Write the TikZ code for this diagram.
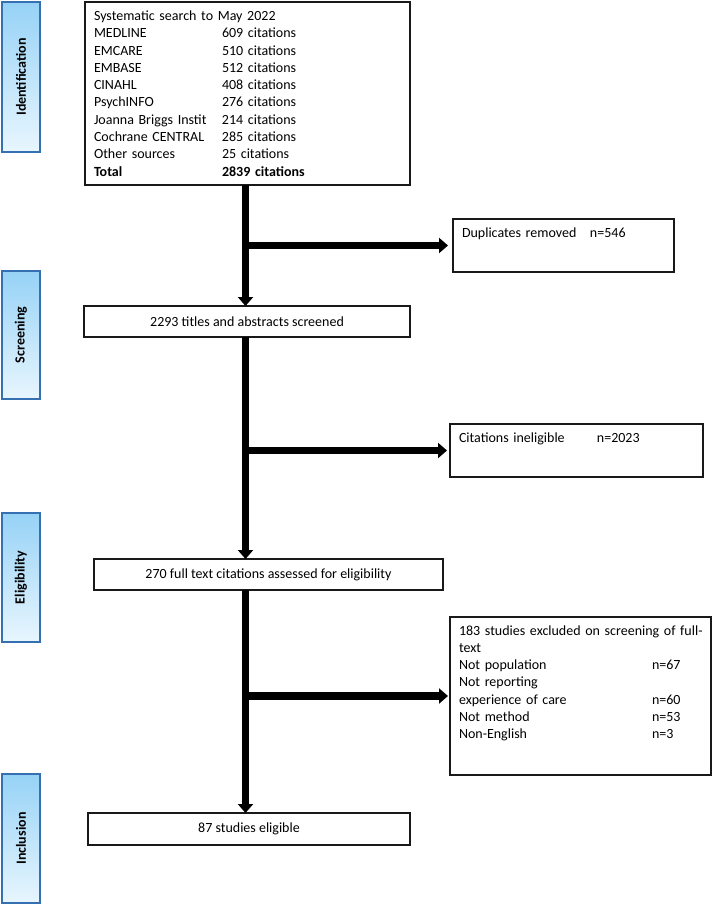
\documentclass[tikz,border=0pt]{standalone}
\usepackage{fontspec}
\setmainfont{Carlito}
\usepackage{tikz}
\usetikzlibrary{arrows.meta}
\definecolor{stageblue}{RGB}{52,112,178}
\definecolor{stagedark}{RGB}{150,210,246}
\definecolor{stagelight}{RGB}{232,246,254}
\definecolor{boxline}{RGB}{25,25,25}
\newcommand{\tabrow}[3]{\makebox[#1][l]{#2}#3}

\begin{document}
\begin{tikzpicture}[x=1pt,y=-1pt,>={Triangle[width=15pt,length=9pt]}]
  \tikzstyle{every node}=[outer sep=0pt,font=\fontsize{14}{17.3}\selectfont]
  \tikzstyle{stage}=[draw=stageblue,line width=1.5pt,top color=stagedark,
                     bottom color=stagelight,rotate=90,minimum height=38pt,
                     inner sep=0pt,font=\fontsize{14}{17}\selectfont\bfseries]
  \tikzstyle{box}=[draw=boxline,line width=1.6pt,anchor=north west,
                   inner xsep=9pt,inner ysep=0pt]
  \tikzstyle{excl}=[box,align=left,inner ysep=5pt,text height=13pt]
  \tikzstyle{flow}=[->,line width=7.5pt,black]

  \useasboundingbox (0,0) rectangle (712,904);

  % stages
  \node[stage,minimum width=150pt] (ident) at (21,77)    {Identification\hspace{21pt}};
  \node[stage,minimum width=128pt] (scr)   at (21,335)   {Screening};
  \node[stage,minimum width=129pt] (elig)  at (21,577.5) {Eligibility};
  \node[stage,minimum width=129pt] (incl)  at (21,838.5) {Inclusion};

  % main column
  \node[box,text width=307pt,minimum height=183pt,align=left] (search) at (85,2)
    {Systematic search to May 2022\\
     \tabrow{128pt}{MEDLINE}{609 citations}\\
     \tabrow{128pt}{EMCARE}{510 citations}\\
     \tabrow{128pt}{EMBASE}{512 citations}\\
     \tabrow{128pt}{CINAHL}{408 citations}\\
     \tabrow{128pt}{PsychINFO}{276 citations}\\
     \tabrow{128pt}{Joanna Briggs Instit}{214 citations}\\
     \tabrow{128pt}{Cochrane CENTRAL}{285 citations}\\
     \tabrow{128pt}{Other sources}{25 citations}\\
     \textbf{\tabrow{128pt}{Total}{2839 citations}}};
  \node[box,minimum width=326pt,minimum height=31pt] (screen) at (84,306)
    {2293 titles and abstracts screened};
  \node[box,minimum width=349pt,minimum height=31pt] (full)   at (94,559)
    {270 full text citations assessed for eligibility};
  \node[box,minimum width=322pt,minimum height=32pt] (incl87) at (88,813)
    {87 studies eligible};

  % exclusions
  \node[excl,text width=203pt,text depth=30pt] (dup) at (453,219)
    {\tabrow{128pt}{Duplicates removed}{n=546}};
  \node[excl,text width=235pt,text depth=30pt] (inel) at (450,424)
    {\tabrow{138pt}{Citations ineligible}{n=2023}};
  \node[excl,text width=243pt,text depth=135pt] (ftx) at (450,617)
    {\mbox{183 studies excluded on screening of full-}\\
     text\\
     \tabrow{193pt}{Not population}{n=67}\\
     Not reporting\\
     \tabrow{193pt}{experience of care}{n=60}\\
     \tabrow{193pt}{Not method}{n=53}\\
     \tabrow{193pt}{Non-English}{n=3}};

  \coordinate (shaft) at (245.5,0);

  \path (search.south -| shaft) edge[flow] (screen.north -| shaft)
        (screen.south -| shaft) edge[flow] (full.north -| shaft)
        (full.south -| shaft)   edge[flow] (incl87.north -| shaft)
        (dup.west -| shaft)     edge[flow,shorten >=5pt] (dup.west)
        (inel.west -| shaft)    edge[flow,shorten >=3pt] (inel.west)
        (ftx.west -| shaft)     edge[flow,shorten >=2pt] (ftx.west);
\end{tikzpicture}
\end{document}
